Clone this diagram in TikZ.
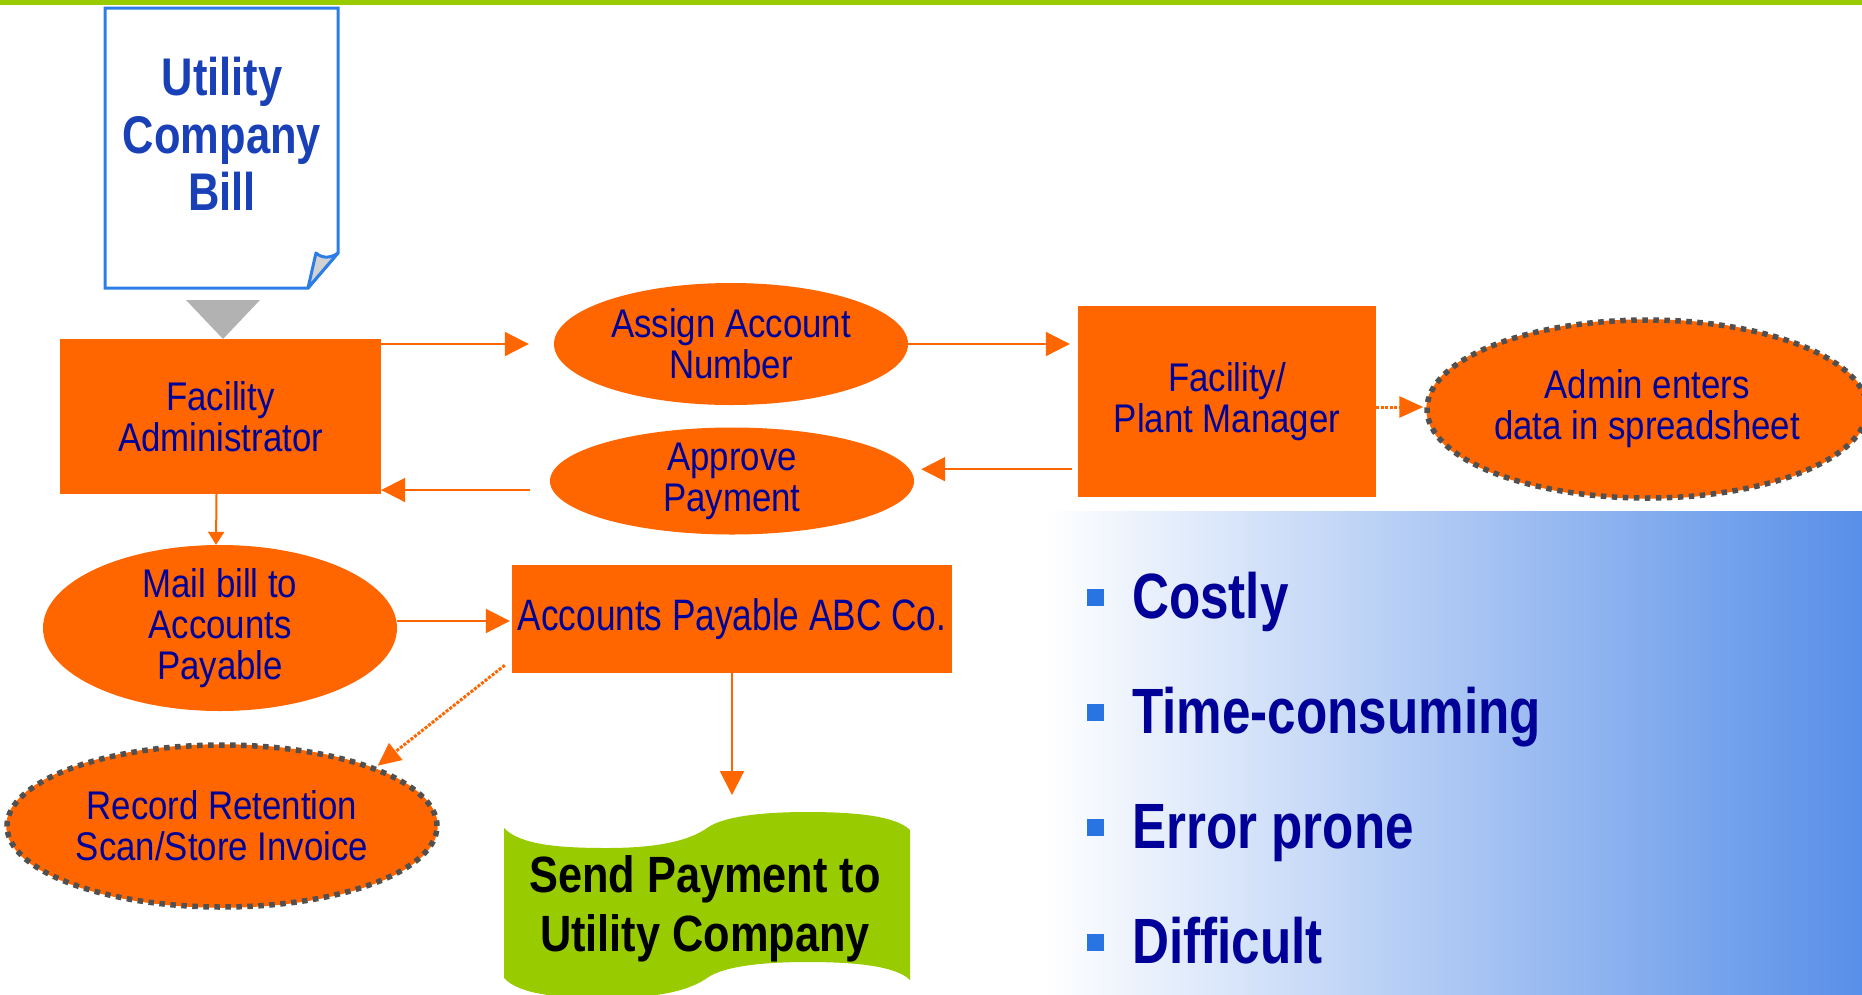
\documentclass[tikz,border=0pt]{standalone}
\usepackage{fontspec}
\setmainfont{Liberation Sans}
\newfontfamily\regA[FakeStretch=0.87]{Liberation Sans}
\newfontfamily\regB[FakeStretch=0.80]{Liberation Sans}
\newfontfamily\bldA[FakeStretch=0.82]{Liberation Sans}
\newfontfamily\bldB[FakeStretch=0.85]{Liberation Sans}
\newfontfamily\bldC[FakeStretch=0.80]{Liberation Sans}
\usetikzlibrary{shapes.geometric,arrows.meta,calc}
\definecolor{org}{RGB}{255,102,0}
\definecolor{navy}{RGB}{0,0,153}
\definecolor{billblue}{RGB}{45,125,230}
\definecolor{billtext}{RGB}{26,64,184}
\definecolor{lime}{RGB}{153,204,0}
\definecolor{dotgray}{RGB}{80,80,80}
\definecolor{panelblue}{RGB}{88,143,232}
\definecolor{bulletblue}{RGB}{40,116,226}
\definecolor{foldgray}{RGB}{210,210,210}
\definecolor{trigray}{RGB}{178,178,178}
\tikzset{
 box/.style={rectangle, fill=org, inner sep=0pt, text=navy, align=center, font=\regA\fontsize{40}{41}\selectfont},
 oval/.style={ellipse, fill=org, inner sep=-6pt, text=navy, align=center, font=\regA\fontsize{40}{41}\selectfont},
 dotoval/.style={oval, draw=org, line width=1.5pt, postaction={draw=dotgray, line width=5.5pt, dash pattern=on 5.5pt off 5.5pt}},
 conn/.style={draw=org, line width=2pt, -{Triangle[length=24pt,width=24pt]}},
 dotconn/.style={draw=org, line width=3pt, dash pattern=on 3pt off 1.5pt, -{Triangle[length=23pt,width=21pt]}},
 bullettext/.style={anchor=base west, text=navy, inner sep=0pt, font=\bldC\bfseries\fontsize{64}{64}\selectfont},
 bsq/.style={rectangle, fill=bulletblue, minimum size=17pt, inner sep=0pt},
}
\begin{document}
\begin{tikzpicture}[x=1pt,y=-1pt]
\clip (0,0) rectangle (1862,994);
\fill[white] (0,0) rectangle (1862,994);
\fill[lime] (0,0) rectangle (1862,5);
\shade[left color=white, right color=panelblue] (1045,511) rectangle (1862,994);

% utility bill document
\draw[billblue, line width=3pt, fill=white, line join=miter] (105,8) -- (338,8) -- (338,253) -- (308,288) -- (105,288) -- cycle;
\draw[billblue, line width=3pt, fill=foldgray, line join=round] (308,288) -- (316,253) .. controls (323,259) and (331,258) .. (338,253) -- cycle;
\node[font=\bldA\bfseries\fontsize{53}{57.5}\selectfont, text=billtext, align=center, inner sep=0pt] (bill) at (222,134) {Utility\\Company\\Bill};
\fill[trigray] (186,300) -- (260,300) -- (223,339) -- cycle;

% send payment tape
\fill[lime] (504,828) .. controls (520,845) and (560,848) .. (607,848) .. controls (660,848) and (690,840) .. (707,828) .. controls (725,815) and (770,812) .. (807,812) .. controls (850,812) and (895,815) .. (910,830) -- (910,980) .. controls (895,965) and (850,962) .. (807,962) .. controls (770,962) and (725,965) .. (707,978) .. controls (690,990) and (660,998) .. (607,998) .. controls (560,998) and (520,995) .. (504,978) -- cycle;
\coordinate (wtop) at (732,818);
\node[font=\bldB\bfseries\fontsize{51}{59}\selectfont, align=center, inner sep=0pt] (send) at (705,909) {Send Payment to\\Utility Company};

% nodes
\node[box, minimum width=321pt, minimum height=155pt] (fa) at (220.5,416.5) {Facility\\Administrator};
\node[oval, minimum width=354pt, minimum height=122pt] (asn) at (731,344) {Assign Account\\Number};
\node[box, minimum width=298pt, minimum height=191pt] (pm) at (1227,401.5) {Facility/\\Plant Manager};
\node[dotoval, minimum width=440pt, minimum height=178pt] (adm) at (1647,409) {Admin enters\\data in spreadsheet};
\node[oval, minimum width=364pt, minimum height=107pt] (apv) at (732,481) {Approve\\Payment};
\node[oval, minimum width=354pt, minimum height=166pt] (mail) at (220,628) {Mail bill to\\Accounts\\Payable};
\node[box, minimum width=440pt, minimum height=108pt, font=\regB\fontsize{44}{45}\selectfont] (apb) at (732,619) {Accounts Payable ABC Co.};
\node[dotoval, minimum width=430pt, minimum height=162pt] (rr) at (222,826) {Record Retention\\Scan/Store Invoice};

% bullets
\node[bsq] (b1) at (1095.5,597) {};
\node[bullettext] (t1) at (1132,618) {Costly};
\node[bsq] (b2) at (1095.5,712) {};
\node[bullettext] (t2) at (1132,733) {Time-consuming};
\node[bsq] (b3) at (1095.5,827) {};
\node[bullettext] (t3) at (1132,848) {Error prone};
\node[bsq] (b4) at (1095.5,942) {};
\node[bullettext] (t4) at (1132,963) {Difficult};

% connectors
\draw[conn, shorten >=25pt] (fa.east |- asn.west) -- (asn.west);
\draw[conn, shorten >=8pt] (asn.east) -- (asn.east -| pm.west);
\coordinate (c1) at ([xshift=-6pt,yshift=28pt]pm.south west);
\draw[conn, shorten >=7pt] (c1) -- (c1 -| apv.east);
\coordinate (d1) at ([xshift=-20pt,yshift=-9pt]apv.west);
\draw[conn] (d1) -- (d1 -| fa.east);
\draw[draw=org, line width=2pt, -{Triangle[length=13pt,width=16pt]}] ([xshift=-4pt]fa.south) -- ([xshift=-4pt]mail.north);
\draw[conn, shorten >=2pt] ([yshift=7pt]mail.east) -- ([yshift=7pt]mail.east -| apb.west);
\draw[dotconn, shorten >=4pt] ([xshift=-7pt,yshift=8pt]apb.south west) -- (rr.north east);
\draw[conn, shorten >=23pt] (apb.south) -- (wtop);
\draw[dotconn, -{Triangle[length=24pt,width=21pt]}, shorten >=3pt] ([yshift=-5.5pt]pm.east) -- ([yshift=-5.5pt]pm.east -| adm.west);
\end{tikzpicture}
\end{document}
